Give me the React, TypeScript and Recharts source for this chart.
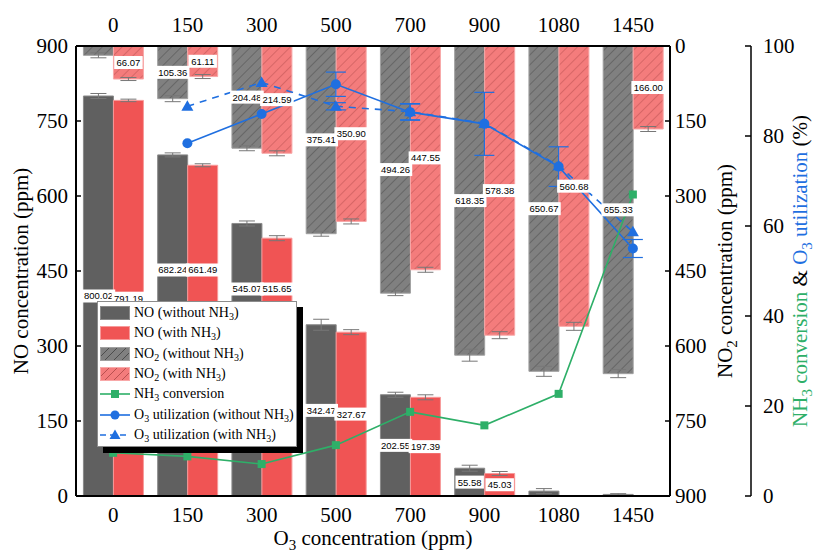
import {
  Bar,
  ComposedChart,
  ErrorBar,
  LabelList,
  Legend,
  Line,
  XAxis,
  YAxis,
} from "recharts";

const doses = ["0", "150", "300", "500", "700", "900", "1080", "1450"];

const noWithout = [800.02, 682.24, 545.07, 342.47, 202.55, 55.58, 9.8, 3.2];
const noWithoutErr = [5, 4, 5, 11, 5, 6, 5, 1.5];
const noWith = [791.19, 661.49, 515.65, 327.67, 197.39, 45.03, 0, 0];
const noWithErr = [2.5, 3, 5, 5, 5, 4, null, null];

const no2Without = [18.6, 105.36, 204.48, 375.41, 494.26, 618.35, 650.67, 655.33];
const no2WithoutErr = [5, 6, 5, 5, 5, 12, 10, 8];
const no2With = [66.07, 61.11, 214.59, 350.9, 447.55, 578.38, 560.68, 166.0];
const no2WithErr = [3, 4, 5, 5, 5, 7, 8, 5];

const nh3Conversion = [9.6, 8.8, 7.1, 11.3, 18.7, 15.7, 22.7, 67.0];
const o3UtilWithout = [null, 78.4, 84.9, 91.5, 85.3, 82.7, 73.2, 55.0];
const o3UtilWithoutErr = [null, null, null, 2.7, 1.8, 7.0, 4.4, 2.0];
const o3UtilWith = [null, 86.6, 91.9, 86.6, 85.4, 82.8, 73.4, 58.7];
const o3UtilWithErr = [null, null, null, 0.8, 1.8, null, null, null];

const concTicks = [0, 150, 300, 450, 600, 750, 900];
const pctTicks = [0, 20, 40, 60, 80, 100];

const rows = doses.map((dose, i) => ({
  dose,
  noWithout: noWithout[i],
  noWithoutErr: noWithoutErr[i],
  noWith: noWith[i],
  noWithErr: noWithErr[i],
  no2Without: no2Without[i],
  no2WithoutErr: no2WithoutErr[i],
  no2With: no2With[i],
  no2WithErr: no2WithErr[i],
  nh3Conversion: nh3Conversion[i],
  o3UtilWithout: o3UtilWithout[i],
  o3UtilWithoutErr: o3UtilWithoutErr[i],
  o3UtilWith: o3UtilWith[i],
  o3UtilWithErr: o3UtilWithErr[i],
}));

const SERIF = '"Liberation Serif", "Times New Roman", serif';
const SANS = '"Liberation Sans", Arial, sans-serif';
const FONT = 21;
const DARK = "#606060";
const RED = "#f05454";
const GRAY = "#808080";
const PINK = "#f47c7c";
const GREEN = "#2eaf68";
const BLUE = "#1f6fe0";

// value tags for the NO bars at 150/300 sit higher so the legend doesn't hide them (ppm)
const noTagAt: Record<number, number> = { 1: 452, 2: 414 };

const ValueTag = ({ cx, cy, value }: { cx: number; cy: number; value: number }) => {
  const text = value.toFixed(2);
  const w = text.length * 5.1 + 3;
  return (
    <g>
      <rect x={cx - w / 2} y={cy - 6.5} width={w} height={13} fill="#fff" />
      <text
        x={cx}
        y={cy}
        dy="0.36em"
        textAnchor="middle"
        fontSize={9.5}
        fontFamily={SANS}
        fill="#000"
      >
        {text}
      </text>
    </g>
  );
};

const boxOf = (p: any) => {
  const vb = p.viewBox && p.viewBox.width != null ? p.viewBox : p;
  return { x: +vb.x, y: +vb.y, width: +vb.width, height: +vb.height };
};

const renderNo2Tag = (p: any) => {
  const v = Number(p.value);
  if (!v || v < 20) return null;
  const { x, y, width, height } = boxOf(p);
  return <ValueTag cx={x + width / 2} cy={y + height / 2} value={v} />;
};

const renderNoTag = (p: any) => {
  const v = Number(p.value);
  if (!v || v < 20) return null;
  const { x, y, width, height } = boxOf(p);
  const bottom = Math.max(y, y + height);
  const h = Math.abs(height);
  const at = noTagAt[p.index];
  const cy = at != null ? bottom - (at * h) / v : bottom - h / 2;
  return <ValueTag cx={x + width / 2} cy={cy} value={v} />;
};

// inward tick marks with labels outside the frame
const sideTick = (side: "left" | "right", gap: number, inward: number) => (p: any) => {
  const { x, y, payload } = p;
  const axisX = side === "left" ? x + gap : x - gap;
  const end = side === "left" ? axisX + inward : axisX - inward;
  return (
    <g>
      <line x1={axisX} x2={end} y1={y} y2={y} stroke="#000" strokeWidth={1.5} />
      <text
        x={x}
        y={y}
        dy="0.35em"
        textAnchor={side === "left" ? "end" : "start"}
        fontSize={FONT}
        fontFamily={SERIF}
        fill="#000"
      >
        {payload.value}
      </text>
    </g>
  );
};

const VerticalTitle = ({ x, y, children }: { x: number; y: number; children: any }) => (
  <text
    transform={`translate(${x}, ${y}) rotate(-90)`}
    textAnchor="middle"
    fontSize={FONT}
    fontFamily={SERIF}
    fill="#000"
  >
    {children}
  </text>
);

const squareDot = (p: any) => {
  const { cx, cy, index } = p;
  if (cx == null || cy == null) return <g key={index} />;
  return <rect key={index} x={cx - 4} y={cy - 4} width={8} height={8} fill={GREEN} />;
};

const circleDot = (p: any) => {
  const { cx, cy, index, value } = p;
  if (cx == null || cy == null || value == null) return <g key={index} />;
  return <circle key={index} cx={cx} cy={cy} r={5} fill={BLUE} />;
};

const triangleDot = (p: any) => {
  const { cx, cy, index, value } = p;
  if (cx == null || cy == null || value == null) return <g key={index} />;
  return (
    <polygon
      key={index}
      points={`${cx},${cy - 6} ${cx + 6},${cy + 4.5} ${cx - 6},${cy + 4.5}`}
      fill={BLUE}
    />
  );
};

const hatch = (base: string, line: string) =>
  `repeating-linear-gradient(135deg, ${base} 0 5px, ${line} 5px 6px)`;

const SwatchBox = ({ fill, border }: { fill: string; border: string }) => (
  <div
    style={{
      width: 30,
      height: 14,
      flex: "none",
      background: fill,
      border: `1px solid ${border}`,
      boxSizing: "border-box",
    }}
  />
);

const SwatchLine = ({ kind }: { kind: "square" | "circle" | "triangle" }) => {
  const color = kind === "square" ? GREEN : BLUE;
  return (
    <svg width={30} height={14} style={{ flex: "none" }}>
      <line
        x1={0}
        x2={30}
        y1={7}
        y2={7}
        stroke={color}
        strokeWidth={1.6}
        strokeDasharray={kind === "triangle" ? "6 4" : undefined}
      />
      {kind === "square" && <rect x={11} y={3} width={8} height={8} fill={color} />}
      {kind === "circle" && <circle cx={15} cy={7} r={4.5} fill={color} />}
      {kind === "triangle" && <polygon points="15,1.5 20.5,11 9.5,11" fill={color} />}
    </svg>
  );
};

const sub = (t: string) => (
  <span style={{ fontSize: 10, verticalAlign: -3, lineHeight: 0 }}>{t}</span>
);

const legendRows = [
  { swatch: <SwatchBox fill={DARK} border="#8a8a8a" />, label: <>NO (without NH{sub("3")})</> },
  { swatch: <SwatchBox fill={RED} border="#f79a9a" />, label: <>NO (with NH{sub("3")})</> },
  {
    swatch: <SwatchBox fill={hatch(GRAY, "#4c4c4c")} border="#a0a0a0" />,
    label: <>NO{sub("2")} (without NH{sub("3")})</>,
  },
  {
    swatch: <SwatchBox fill={hatch(PINK, "#b95050")} border="#f8a8a8" />,
    label: <>NO{sub("2")} (with NH{sub("3")})</>,
  },
  { swatch: <SwatchLine kind="square" />, label: <>NH{sub("3")} conversion</> },
  { swatch: <SwatchLine kind="circle" />, label: <>O{sub("3")} utilization (without NH{sub("3")})</> },
  { swatch: <SwatchLine kind="triangle" />, label: <>O{sub("3")} utilization (with NH{sub("3")})</> },
];

const LegendBox = () => (
  <div
    style={{
      width: 200,
      boxSizing: "border-box",
      background: "#fff",
      border: "1px solid #8c8c8c",
      boxShadow: "6px 6px 0 #000",
      padding: "1px 0 1px 2px",
      fontFamily: SERIF,
      fontSize: 14,
      color: "#000",
    }}
  >
    {legendRows.map((r, i) => (
      <div
        key={i}
        style={{ display: "flex", alignItems: "center", height: 20.3, gap: 4, whiteSpace: "nowrap" }}
      >
        {r.swatch}
        <span>{r.label}</span>
      </div>
    ))}
  </div>
);

export default function App() {
  return (
    <div style={{ position: "absolute", left: 0, top: 0, width: 814, height: 552, background: "#fff" }}>
      <ComposedChart
        width={814}
        height={552}
        data={rows}
        margin={{ top: 6, right: 0, bottom: 0, left: 0 }}
        barGap={0}
        barCategoryGap="10%"
      >
        <defs>
          <pattern
            id="hatchGray"
            width={7}
            height={7}
            patternUnits="userSpaceOnUse"
            patternTransform="rotate(45)"
          >
            <rect width={7} height={7} fill={GRAY} />
            <line x1={0} y1={0} x2={0} y2={7} stroke="#4c4c4c" strokeWidth={1} />
          </pattern>
          <pattern
            id="hatchPink"
            width={7}
            height={7}
            patternUnits="userSpaceOnUse"
            patternTransform="rotate(45)"
          >
            <rect width={7} height={7} fill={PINK} />
            <line x1={0} y1={0} x2={0} y2={7} stroke="#b95050" strokeWidth={1} />
          </pattern>
        </defs>

        <XAxis
          xAxisId="bottom"
          dataKey="dose"
          height={56}
          axisLine={{ stroke: "#000", strokeWidth: 2 }}
          tickLine={false}
          tickSize={0}
          tickMargin={11}
          tick={{ fontSize: FONT, fontFamily: SERIF, fill: "#000" }}
          label={{
            content: (p: any) => {
              const vb = p.viewBox;
              return (
                <text
                  x={vb.x + vb.width / 2}
                  y={vb.y + 49}
                  textAnchor="middle"
                  fontSize={FONT}
                  fontFamily={SERIF}
                  fill="#000"
                >
                  <tspan>O</tspan>
                  <tspan dy={5} fontSize={15}>3</tspan>
                  <tspan dy={-5}> concentration (ppm)</tspan>
                </text>
              );
            },
          }}
        />
        <XAxis
          xAxisId="top"
          dataKey="dose"
          orientation="top"
          height={40}
          axisLine={{ stroke: "#000", strokeWidth: 2 }}
          tickLine={false}
          tickSize={0}
          tickMargin={14}
          tick={{ fontSize: FONT, fontFamily: SERIF, fill: "#000" }}
        />
        <YAxis
          yAxisId="no"
          width={76}
          domain={[0, 900]}
          ticks={concTicks}
          allowDataOverflow
          axisLine={{ stroke: "#000", strokeWidth: 2 }}
          tickLine={false}
          tickSize={0}
          tickMargin={8}
          tick={sideTick("left", 8, 5)}
          label={{
            content: (p: any) => {
              const vb = p.viewBox;
              return (
                <VerticalTitle x={vb.x + 28} y={vb.y + vb.height / 2}>
                  NO concentration (ppm)
                </VerticalTitle>
              );
            },
          }}
        />
        <YAxis
          yAxisId="no2"
          orientation="right"
          width={81}
          domain={[0, 900]}
          ticks={concTicks}
          reversed
          allowDataOverflow
          axisLine={{ stroke: "#000", strokeWidth: 2 }}
          tickLine={false}
          tickSize={0}
          tickMargin={5}
          tick={sideTick("right", 5, 5)}
          label={{
            content: (p: any) => {
              const vb = p.viewBox;
              return (
                <VerticalTitle x={vb.x + 62} y={vb.y + vb.height / 2}>
                  <tspan>NO</tspan>
                  <tspan dy={5} fontSize={15}>2</tspan>
                  <tspan dy={-5}> concentration (ppm)</tspan>
                </VerticalTitle>
              );
            },
          }}
        />
        <YAxis
          yAxisId="pct"
          orientation="right"
          width={63}
          domain={[0, 100]}
          ticks={pctTicks}
          allowDataOverflow
          axisLine={{ stroke: "#000", strokeWidth: 1.5 }}
          tickLine={false}
          tickSize={0}
          tickMargin={12}
          tick={sideTick("right", 12, 6)}
          label={{
            content: (p: any) => {
              const vb = p.viewBox;
              return (
                <VerticalTitle x={vb.x + 56} y={vb.y + vb.height / 2}>
                  <tspan fill={GREEN}>NH</tspan>
                  <tspan dy={5} fontSize={15} fill={GREEN}>3</tspan>
                  <tspan dy={-5} fill={GREEN}> conversion</tspan>
                  <tspan> &amp; </tspan>
                  <tspan fill={BLUE}>O</tspan>
                  <tspan dy={5} fontSize={15} fill={BLUE}>3</tspan>
                  <tspan dy={-5} fill={BLUE}> utilization</tspan>
                  <tspan> (%)</tspan>
                </VerticalTitle>
              );
            },
          }}
        />

        {/* NO rising from the bottom */}
        <Bar
          xAxisId="bottom"
          yAxisId="no"
          dataKey="noWithout"
          fill={DARK}
          stroke="#8a8a8a"
          strokeWidth={1}
          isAnimationActive={false}
        >
          <ErrorBar dataKey="noWithoutErr" width={8} stroke="#777" strokeWidth={1} />
          <LabelList dataKey="noWithout" content={renderNoTag} />
        </Bar>
        <Bar
          xAxisId="bottom"
          yAxisId="no"
          dataKey="noWith"
          fill={RED}
          stroke="#f79a9a"
          strokeWidth={1}
          isAnimationActive={false}
        >
          <ErrorBar dataKey="noWithErr" width={8} stroke="#777" strokeWidth={1} />
          <LabelList dataKey="noWith" content={renderNoTag} />
        </Bar>

        {/* NO2 hanging from the top (reversed axis) */}
        <Bar
          xAxisId="top"
          yAxisId="no2"
          dataKey="no2Without"
          fill="url(#hatchGray)"
          stroke="#a0a0a0"
          strokeWidth={1}
          isAnimationActive={false}
        >
          <ErrorBar dataKey="no2WithoutErr" width={8} stroke="#777" strokeWidth={1} />
          <LabelList dataKey="no2Without" content={renderNo2Tag} />
        </Bar>
        <Bar
          xAxisId="top"
          yAxisId="no2"
          dataKey="no2With"
          fill="url(#hatchPink)"
          stroke="#f8a8a8"
          strokeWidth={1}
          isAnimationActive={false}
        >
          <ErrorBar dataKey="no2WithErr" width={8} stroke="#777" strokeWidth={1} />
          <LabelList dataKey="no2With" content={renderNo2Tag} />
        </Bar>

        <Line
          xAxisId="bottom"
          yAxisId="pct"
          dataKey="o3UtilWith"
          stroke={BLUE}
          strokeWidth={1.6}
          strokeDasharray="7 6"
          dot={triangleDot}
          activeDot={false}
          isAnimationActive={false}
        >
          <ErrorBar dataKey="o3UtilWithErr" width={10} stroke={BLUE} strokeWidth={1.2} />
        </Line>
        <Line
          xAxisId="bottom"
          yAxisId="pct"
          dataKey="o3UtilWithout"
          stroke={BLUE}
          strokeWidth={1.6}
          dot={circleDot}
          activeDot={false}
          isAnimationActive={false}
        >
          <ErrorBar dataKey="o3UtilWithoutErr" width={10} stroke={BLUE} strokeWidth={1.2} />
        </Line>
        <Line
          xAxisId="bottom"
          yAxisId="pct"
          dataKey="nh3Conversion"
          stroke={GREEN}
          strokeWidth={1.6}
          dot={squareDot}
          activeDot={false}
          isAnimationActive={false}
        />

        <Legend
          layout="horizontal"
          verticalAlign="middle"
          align="center"
          wrapperStyle={{ left: 97, top: 301, width: "auto", height: "auto" }}
          content={() => <LegendBox />}
        />
      </ComposedChart>
    </div>
  );
}
